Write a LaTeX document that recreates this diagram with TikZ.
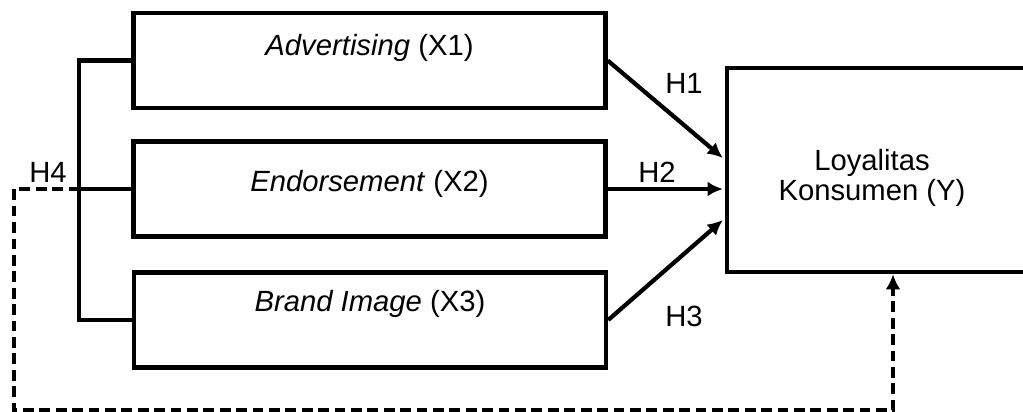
\documentclass[tikz,border=0pt]{standalone}
\usepackage{fontspec}
\setmainfont{Liberation Sans}
\usetikzlibrary{calc}
\usetikzlibrary{arrows.meta}
\usetikzlibrary{positioning}
\tikzset{>={Latex[length=0.38cm,width=0.37cm]}}
\tikzstyle{var} = [rectangle, draw=black, line width=3pt, minimum width=11.8cm, minimum height=2.37cm, inner sep=0pt]
\tikzstyle{conn} = [line width=3pt]
\tikzstyle{loopline} = [line width=3pt, dash pattern=on 0.27cm off 0.14cm]

\begin{document}
\begin{tikzpicture}[x=0.025cm, y=-0.025cm, every node/.style={font=\fontsize{20.8}{21.5}\selectfont}]
\clip (0,0) rectangle (1023,412);
\node [var] (X1) at (369.5, 60.5) {};
\node [var] (X2) at (369.5, 189) {};
\node [var] (X3) at (370, 320) {};
\node [rectangle, draw=black, line width=3pt, minimum width=8cm, minimum height=5.1cm] (Y) at (887, 170) {};
\node (tX1) at (369.5, 48) {\textit{Advertising} (X1)};
\node (tX2) at (369.5, 184) {\textit{Endorsement} (X2)};
\node (tX3) at (370, 304) {\textit{Brand Image} (X3)};
\node [align=center] (tY) at (872, 178) {Loyalitas\\Konsumen (Y)};
\coordinate (hub) at ($(X2.west)+(-52,0)$);
\coordinate (dl) at (14, 410);
\coordinate (dr) at (893, 410);
% bracket
\draw [conn] (X1.west) -- ++(-52,0) |- (X3.west);
\draw [conn] (hub) -- (X2.west);
% hypotheses
\draw [conn, ->] (X1.east) -- ($(Y.west |- X2.east)+(-2,-31)$);
\draw [conn, ->] (X2.east) -- ($(Y.west |- X2.east)+(-2,0)$);
\draw [conn, ->] (X3.east) -- ($(Y.west |- X2.east)+(-2,31)$);
\draw [loopline, ->] (hub) -| (dl) -- (dr) -- (dr |- Y.south);
\node (h1) at (684, 83) {H1};
\node (h2) at (657, 172) {H2};
\node (h3) at (684, 316) {H3};
\node (h4) at (48, 172) {H4};
\end{tikzpicture}
\end{document}
